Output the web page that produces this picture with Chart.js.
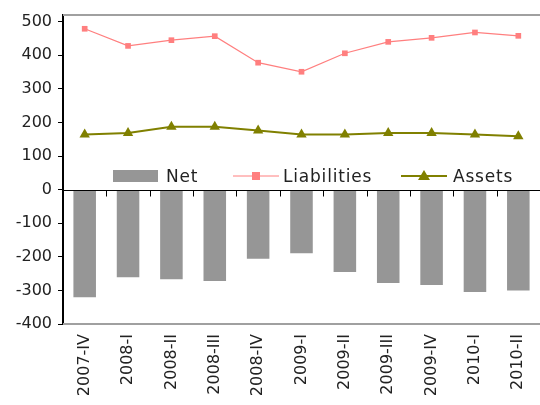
<!DOCTYPE html>
<html lang="en">
  <head>
    <meta charset="UTF-8" />
    <title>Net, Liabilities, Assets</title>
    <script src="https://cdn.jsdelivr.net/npm/chart.js"></script>
    <style>
      body {
        margin: 0;
        background: #fff;
        font-family: "DejaVu Sans", sans-serif;
      }
      .chart-box {
        position: relative;
        width: 540px;
        height: 405px;
        overflow: hidden;
      }
      .legend span {
        position: absolute;
        top: 165px;
        height: 22px;
        line-height: 22px;
        font-size: 17px;
        letter-spacing: 0.8px;
        color: #222;
        white-space: nowrap;
      }
      .swatch-bar {
        position: absolute;
        left: 113px;
        top: 170px;
        width: 45px;
        height: 12px;
        background: #969696;
      }
      .swatch-line {
        position: absolute;
        top: 170px;
      }
    </style>
  </head>
  <body>
    <div class="chart-box">
      <canvas id="myChart"></canvas>
      <div class="legend">
        <i class="swatch-bar"></i>
        <span style="left: 166px">Net</span>
        <canvas class="swatch-line" id="legLiab" width="46" height="12" style="left: 233px"></canvas>
        <span style="left: 283px">Liabilities</span>
        <canvas class="swatch-line" id="legAssets" width="46" height="12" style="left: 401px"></canvas>
        <span style="left: 453px">Assets</span>
      </div>
    </div>
    <script>
      const quarters = ["2007-IV", "2008-I", "2008-II", "2008-III", "2008-IV", "2009-I", "2009-II", "2009-III", "2009-IV", "2010-I", "2010-II"];
      const netValues = [-320, -261, -267, -272, -206, -189, -245, -278, -284, -305, -300];
      const liabilities = [479, 428, 445, 457, 378, 351, 406, 440, 452, 468, 458];
      const assets = [164, 169, 187, 187, 176, 164, 164, 169, 169, 164, 159];
      const yTicks = [-400, -300, -200, -100, 0, 100, 200, 300, 400, 500];

      const pink = "#ff7f7f";
      const olive = "#808000";

      // box, zero line and the little category ticks on it
      const framePlugin = {
        id: "frame",
        afterDatasetsDraw(chart) {
          const { ctx, chartArea: a, scales } = chart;
          ctx.save();
          ctx.strokeStyle = "#a0a0a0";
          ctx.lineWidth = 2;
          ctx.beginPath();
          ctx.moveTo(a.left, a.top);
          ctx.lineTo(a.right, a.top);
          ctx.moveTo(a.left, a.bottom);
          ctx.lineTo(a.right, a.bottom);
          ctx.stroke();

          const y0 = Math.round(scales.y.getPixelForValue(0)) + 0.5;
          ctx.strokeStyle = "#000";
          ctx.lineWidth = 1;
          ctx.beginPath();
          ctx.moveTo(a.left, y0);
          ctx.lineTo(a.right, y0);
          for (let i = 1; i < quarters.length; i++) {
            const x = Math.round((scales.x.getPixelForValue(i - 1) + scales.x.getPixelForValue(i)) / 2) + 0.5;
            ctx.moveTo(x, y0);
            ctx.lineTo(x, y0 + 6);
          }
          ctx.stroke();
          ctx.restore();
        },
      };

      const ctx = document.getElementById("myChart");
      new Chart(ctx, {
        data: {
          labels: quarters,
          datasets: [
            {
              type: "line",
              label: "Liabilities",
              data: liabilities,
              borderColor: pink,
              backgroundColor: pink,
              borderWidth: 1.2,
              pointStyle: "rect",
              pointRadius: 4,
              pointBorderWidth: 0,
              tension: 0,
              order: 1,
            },
            {
              type: "line",
              label: "Assets",
              data: assets,
              borderColor: olive,
              backgroundColor: olive,
              borderWidth: 2,
              pointStyle: "triangle",
              pointRadius: 6,
              pointBorderWidth: 0,
              tension: 0,
              order: 0,
            },
            {
              type: "bar",
              label: "Net",
              data: netValues,
              backgroundColor: "#969696",
              barPercentage: 0.52,
              categoryPercentage: 1,
              order: 2,
            },
          ],
        },
        options: {
          responsive: true,
          maintainAspectRatio: false,
          animation: false,
          layout: { autoPadding: false, padding: { top: 15, right: -5, left: 0, bottom: 0 } },
          plugins: {
            legend: { display: false },
            tooltip: { enabled: false },
          },
          scales: {
            x: {
              offset: true,
              grid: { display: false, drawTicks: false },
              border: { display: false },
              ticks: {
                minRotation: 90,
                maxRotation: 90,
                padding: 10,
                color: "#222",
                font: { family: "DejaVu Sans", size: 16 },
              },
              afterFit(scale) {
                scale.height = 81;
                scale.paddingLeft = 0;
                scale.paddingRight = 0;
              },
            },
            y: {
              min: -400,
              max: 520,
              grid: {
                drawOnChartArea: false,
                drawTicks: true,
                tickLength: 5,
                color: "#000",
              },
              border: { display: true, color: "#000", width: 2 },
              afterBuildTicks(scale) {
                scale.ticks = yTicks.map((v) => ({ value: v }));
              },
              ticks: {
                padding: 6,
                color: "#222",
                font: { family: "DejaVu Sans", size: 16 },
              },
              afterFit(scale) {
                scale.width = 63;
                scale.paddingTop = 0;
                scale.paddingBottom = 0;
              },
            },
          },
        },
        plugins: [framePlugin],
      });

      // legend line samples
      const drawSample = function (id, color, width, shape) {
        const c = document.getElementById(id).getContext("2d");
        c.strokeStyle = color;
        c.fillStyle = color;
        c.lineWidth = width;
        c.beginPath();
        c.moveTo(0, 6);
        c.lineTo(46, 6);
        c.stroke();
        c.beginPath();
        if (shape === "rect") {
          c.rect(19, 2, 8, 8);
        } else {
          c.moveTo(23, 0);
          c.lineTo(29, 10);
          c.lineTo(17, 10);
          c.closePath();
        }
        c.fill();
      };
      drawSample("legLiab", pink, 1, "rect");
      drawSample("legAssets", olive, 2, "tri");
    </script>
  </body>
</html>
